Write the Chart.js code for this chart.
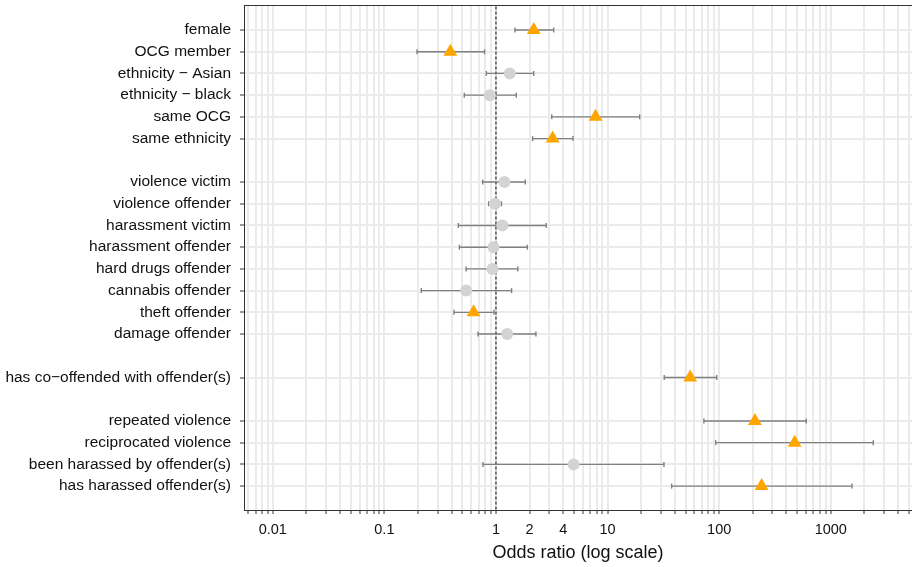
<!DOCTYPE html>
<html>
<head>
<meta charset="utf-8">
<script src="https://cdn.jsdelivr.net/npm/chart.js@4"></script>
<style>
    html, body { margin: 0; padding: 0; background: #fff; }
    #wrap { width: 912px; height: 567px; }
</style>
</head>
<body>
<div id="wrap"><canvas id="grafica" width="912" height="567"></canvas></div>
<script>
// rows top to bottom, '' = spacer row
const variables = [
    'female', 'OCG member', 'ethnicity \u2212 Asian', 'ethnicity \u2212 black', 'same OCG', 'same ethnicity',
    '',
    'violence victim', 'violence offender', 'harassment victim', 'harassment offender',
    'hard drugs offender', 'cannabis offender', 'theft offender', 'damage offender',
    '',
    'has co\u2212offended with offender(s)',
    '',
    'repeated violence', 'reciprocated violence', 'been harassed by offender(s)', 'has harassed offender(s)'
];
const oddsRatio = [2.18, 0.39, 1.33, 0.88, 7.8, 3.22, null, 1.19, 0.98, 1.14, 0.95, 0.93, 0.54, 0.63, 1.26, null, 55, null, 209, 475, 4.97, 240];
const ciLow     = [1.48, 0.196, 0.82, 0.52, 3.16, 2.13, null, 0.76, 0.86, 0.46, 0.47, 0.54, 0.214, 0.42, 0.69, null, 32.2, null, 73, 93, 0.765, 37.5];
const ciHigh    = [3.29, 0.79, 2.18, 1.52, 19.4, 4.9, null, 1.83, 1.12, 2.82, 1.91, 1.57, 1.38, 0.96, 2.28, null, 95, null, 603, 2404, 32, 1549];
const significant = [1, 1, 0, 0, 1, 1, null, 0, 0, 0, 0, 0, 0, 1, 0, null, 1, null, 1, 1, 0, 1];

const tickLabels = [0.01, 0.1, 1, 2, 4, 10, 100, 1000];

const puntosSig = [];
const puntosNoSig = [];
const intervalos = [];
variables.forEach((v, i) => {
    if (oddsRatio[i] === null) return;
    const p = { x: oddsRatio[i], y: i };
    if (significant[i]) puntosSig.push(p); else puntosNoSig.push(p);
    intervalos.push({ x: ciLow[i], y: i }, { x: ciHigh[i], y: i }, { x: NaN, y: NaN });
});

const topBorder = {
    id: 'topBorder',
    afterDraw(chart) {
        const { ctx, chartArea } = chart;
        ctx.save();
        ctx.strokeStyle = '#333';
        ctx.lineWidth = 1;
        ctx.beginPath();
        ctx.moveTo(chartArea.left, chartArea.top + 0.5);
        ctx.lineTo(chartArea.right, chartArea.top + 0.5);
        ctx.stroke();
        ctx.restore();
    }
};

function sinPadding(scale) {
    scale.paddingTop = 0;
    scale.paddingBottom = 0;
    scale.paddingLeft = 0;
    scale.paddingRight = 0;
}

const fuente = 'Liberation Sans, Arial, sans-serif';

const ctx = document.getElementById('grafica').getContext('2d');
new Chart(ctx, {
    type: 'scatter',
    data: {
        datasets: [
            {
                data: puntosSig,
                pointStyle: 'triangle',
                pointRadius: 8,
                backgroundColor: '#FFA500',
                borderColor: '#FFA500',
                borderWidth: 0,
                order: 0
            },
            {
                data: puntosNoSig,
                pointStyle: 'circle',
                pointRadius: 6,
                backgroundColor: '#D3D3D3',
                borderColor: '#D3D3D3',
                borderWidth: 0,
                order: 0
            },
            {
                type: 'line',
                data: intervalos,
                showLine: true,
                spanGaps: false,
                borderColor: '#808080',
                borderWidth: 1.4,
                pointStyle: 'line',
                rotation: 90,
                pointRadius: 2.5,
                pointBorderColor: '#808080',
                pointBorderWidth: 1.4,
                order: 1
            },
            {
                type: 'line',
                data: [{ x: 1, y: -2 }, { x: 1, y: 23 }],
                showLine: true,
                borderColor: '#000',
                borderWidth: 1,
                borderDash: [3, 2],
                pointRadius: 0,
                order: 2
            }
        ]
    },
    options: {
        responsive: false,
        animation: false,
        events: [],
        layout: { autoPadding: false, padding: { top: 5, right: 0, left: 0, bottom: 0 } },
        plugins: { legend: { display: false }, tooltip: { enabled: false } },
        scales: {
            x: {
                type: 'logarithmic',
                min: Math.pow(10, -2.258),
                max: Math.pow(10, 3.728),
                afterFit: (scale) => { scale.height = 57; sinPadding(scale); },
                afterBuildTicks: (scale) => {
                    const t = [];
                    for (let e = -3; e <= 3; e++) {
                        for (let m = 1; m <= 9; m++) {
                            const v = m * Math.pow(10, e);
                            if (v >= scale.min && v <= scale.max) t.push({ value: v });
                        }
                    }
                    scale.ticks = t;
                },
                ticks: {
                    autoSkip: false,
                    maxRotation: 0,
                    padding: 7,
                    color: '#111',
                    font: { family: fuente, size: 14.5 },
                    callback: (value) => {
                        const lab = tickLabels.find(l => Math.abs(l - value) / l < 1e-6);
                        return lab !== undefined ? String(lab) : '';
                    }
                },
                grid: {
                    color: '#EBEBEB',
                    lineWidth: 2,
                    tickColor: '#333',
                    tickLength: 4,
                    tickWidth: 1
                },
                border: { color: '#333', width: 1 },
                title: {
                    display: true,
                    text: 'Odds ratio (log scale)',
                    color: '#111',
                    font: { family: fuente, size: 18 },
                    padding: { top: 0, bottom: 3 }
                }
            },
            y: {
                type: 'linear',
                reverse: true,
                min: -1.15,
                max: 22.1,
                afterFit: (scale) => { scale.width = 244; sinPadding(scale); },
                afterBuildTicks: (scale) => {
                    scale.ticks = variables.map((v, i) => ({ value: i })).filter(t => variables[t.value] !== '');
                },
                ticks: {
                    autoSkip: false,
                    padding: 9,
                    color: '#111',
                    font: { family: fuente, size: 15.5 },
                    callback: (value) => variables[value]
                },
                grid: {
                    color: '#EBEBEB',
                    lineWidth: 2,
                    tickColor: '#333',
                    tickLength: 4,
                    tickWidth: 1
                },
                border: { color: '#333', width: 1 }
            }
        }
    },
    plugins: [topBorder]
});
</script>
</body>
</html>
